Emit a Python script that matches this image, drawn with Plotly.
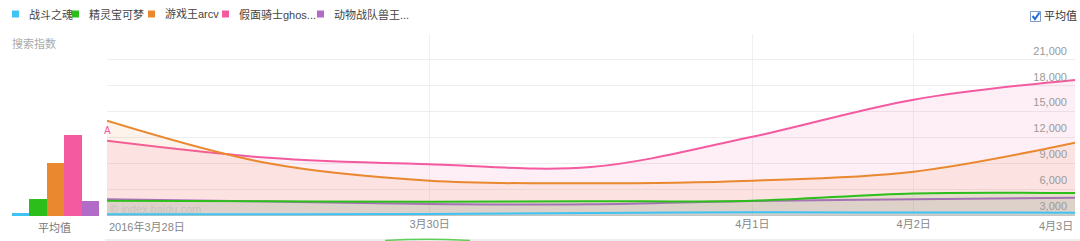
import plotly.graph_objects as go
import numpy as np

W, H = 1080, 241

# ---------------- data ----------------
dates = ['2016-03-28', '2016-03-29', '2016-03-30', '2016-03-31',
         '2016-04-01', '2016-04-02', '2016-04-03']
series_names = ['战斗之魂', '精灵宝可梦', '游戏王arcv', '假面骑士ghos...', '动物战队兽王...']
zhandou = [3080, 3090, 3120, 3230, 3310, 3290, 3270]
jingling = [4660, 4600, 4550, 4590, 4660, 5500, 5540]
youxiwang = [13950, 9000, 6980, 6680, 6980, 8030, 11400]
jiamian = [11630, 9650, 8890, 8570, 12090, 16390, 18680]
dongwu = [4820, 4570, 4280, 4240, 4630, 4820, 5010]
y_ticks = [3000, 6000, 9000, 12000, 15000, 18000, 21000, 24000]
y_tick_text = ['3,000', '6,000', '9,000', '12,000', '15,000', '18,000', '21,000', '']
x_tick_dates = ['2016-03-30', '2016-04-01', '2016-04-02']
x_tick_text = ['3月30日', '4月1日', '4月2日']
first_label = '2016年3月28日'
last_label = '4月3日'

colors = ['#3fc3f2', '#2cbe1b', '#e9882f', '#f45aa0', '#b26bc6']
fills = ['rgba(63,195,242,0.10)', 'rgba(44,190,27,0.10)', 'rgba(233,136,47,0.10)',
         'rgba(244,90,160,0.10)', 'rgba(178,107,198,0.12)']
all_series = [zhandou, jingling, youxiwang, jiamian, dongwu]

FONT = 'Liberation Sans, Noto Sans CJK SC, sans-serif'


def px(x):
    return x / W


def py(y):
    return 1 - y / H


fig = go.Figure()

# draw order: pink, orange, purple, green, cyan
for i in [3, 2, 4, 1, 0]:
    fig.add_trace(go.Scatter(
        x=dates, y=all_series[i], name=series_names[i], mode='lines',
        line=dict(color=colors[i], width=2, shape='spline', smoothing=1),
        fill='tozeroy', fillcolor=fills[i], hoverinfo='skip', showlegend=False,
        xaxis='x', yaxis='y'))

# average bars
avgs = [float(np.mean(s)) for s in all_series]
fig.add_trace(go.Bar(
    x=series_names, y=avgs, marker=dict(color=colors, line=dict(width=0)),
    xaxis='x2', yaxis='y2', showlegend=False, hoverinfo='skip'))

yrange = [2884, 24010]
ydom = [py(216), py(34)]

fig.update_layout(
    width=W, height=H,
    margin=dict(l=0, r=0, t=0, b=0),
    paper_bgcolor='white', plot_bgcolor='white',
    font=dict(family=FONT, size=11, color='#888'),
    bargap=0,
    xaxis=dict(domain=[px(107), px(1075)], type='date',
               range=['2016-03-28', '2016-04-03'],
               tickvals=x_tick_dates, ticktext=x_tick_text,
               showgrid=True, gridcolor='#f0f0f0', gridwidth=1,
               ticks='', showline=False, zeroline=False,
               tickfont=dict(size=11, color='#888'), anchor='y'),
    yaxis=dict(domain=ydom, range=yrange, side='right', anchor='x',
               tickvals=y_ticks, ticktext=y_tick_text,
               ticklabelposition='inside', ticklabelshift=-9, ticklabelstandoff=5,
               showgrid=True, gridcolor='#eeeeee', gridwidth=1,
               zeroline=False, showline=False, ticks='',
               tickfont=dict(size=11, color='#9a9a9a')),
    xaxis2=dict(domain=[px(12), px(99)], anchor='y2', visible=False),
    yaxis2=dict(domain=ydom, range=yrange, anchor='x2', visible=False),
)

ann = []
# x end labels
ann.append(dict(x=dates[0], y=py(226), xref='x', yref='paper', text=first_label,
                showarrow=False, xanchor='left', yanchor='middle',
                font=dict(size=11, color='#888')))
ann.append(dict(x=dates[-1], y=py(226), xref='x', yref='paper', text=last_label,
                showarrow=False, xanchor='right', yanchor='middle',
                font=dict(size=11, color='#888')))
# legend
leg_x = [12, 72, 148, 222, 317]
shapes = []
for i, name in enumerate(series_names):
    shapes.append(dict(type='rect', xref='paper', yref='paper',
                       x0=px(leg_x[i]), x1=px(leg_x[i] + 7), y0=py(17.5), y1=py(10.5),
                       fillcolor=colors[i], line=dict(width=0)))
    ann.append(dict(x=px(leg_x[i] + 15), y=py(14), xref='paper', yref='paper',
                    text=name, showarrow=False, xanchor='left', yanchor='middle',
                    font=dict(size=11, color='#444')))
# 搜索指数
ann.append(dict(x=px(10), y=py(43), xref='paper', yref='paper', text='搜索指数',
                showarrow=False, xanchor='left', yanchor='middle',
                font=dict(size=11, color='#aaa')))
# 平均值 under bars
ann.append(dict(x=px(54), y=py(228), xref='paper', yref='paper', text='平均值',
                showarrow=False, xanchor='center', yanchor='middle',
                font=dict(size=11, color='#777')))
# checkbox + label
shapes.append(dict(type='rect', xref='paper', yref='paper',
                   x0=px(1030.5), x1=px(1040.5), y0=py(21.5), y1=py(11.5),
                   fillcolor='white', line=dict(color='#7f9cc4', width=1)))
shapes.append(dict(type='path', xref='paper', yref='paper',
                   path=f'M {px(1032.5)} {py(16)} L {px(1035)} {py(19)} L {px(1039.5)} {py(12.5)}',
                   line=dict(color='#1f6fd6', width=2)))
ann.append(dict(x=px(1042), y=py(16.5), xref='paper', yref='paper', text='平均值',
                showarrow=False, xanchor='left', yanchor='middle',
                font=dict(size=11, color='#333')))
# watermark
ann.append(dict(x=dates[0], y=py(209), xref='x', yref='paper', text='© index.baidu.com',
                showarrow=False, xanchor='left', yanchor='middle', xshift=1,
                font=dict(size=11, color='#c4c4c4')))
# event marker "A"
ann.append(dict(x=dates[0], y=py(130), xref='x', yref='paper', text='A',
                showarrow=False, xanchor='center', yanchor='middle',
                font=dict(size=10, color='#f45aa0')))
# navigator edge at bottom
shapes.append(dict(type='line', xref='paper', yref='paper',
                   x0=px(105), x1=1, y0=py(240), y1=py(240),
                   line=dict(color='#dddddd', width=1)))
shapes.append(dict(type='path', xref='paper', yref='paper',
                   path=f'M {px(385)} {py(240.5)} Q {px(425)} {py(238)} {px(470)} {py(240.5)}',
                   line=dict(color='#5fcf5a', width=1.5)))

fig.update_layout(annotations=ann, shapes=shapes)

fig.write_html('out.html')
